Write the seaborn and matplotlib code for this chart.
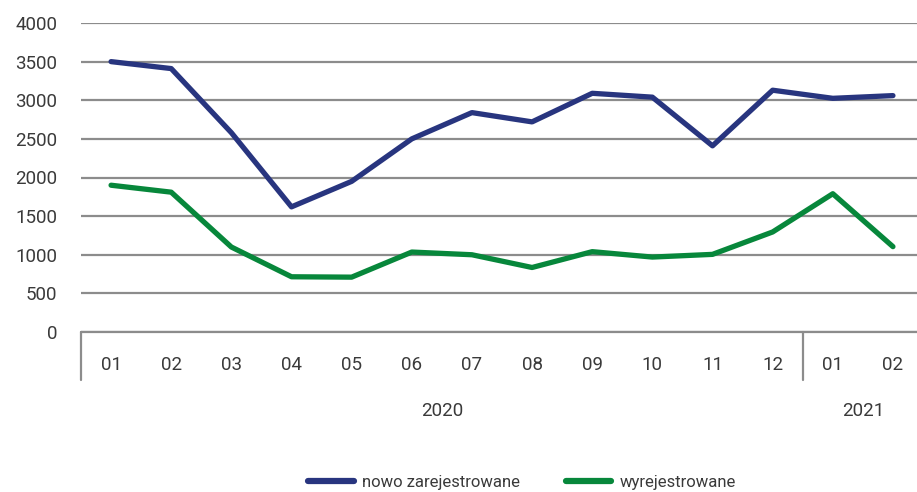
import seaborn as sns
import matplotlib.pyplot as plt
import matplotlib.transforms as mtransforms
import pandas as pd

months = ["01", "02", "03", "04", "05", "06", "07", "08", "09", "10", "11", "12", "01", "02"]
years = ["2020"] * 12 + ["2021"] * 2
nowo = [3500, 3410, 2580, 1620, 1950, 2500, 2840, 2720, 3090, 3040, 2410, 3130, 3025, 3060]
wyrej = [1900, 1810, 1100, 715, 710, 1035, 1000, 835, 1040, 970, 1005, 1295, 1790, 1105]

LABELS = ["nowo zarejestrowane", "wyrejestrowane"]
COLORS = ["#28357f", "#07873b"]
TEXT = "#3a3a3a"

rows = []
for i, (a, b) in enumerate(zip(nowo, wyrej)):
    rows.append({"pos": i, "value": a, "series": LABELS[0]})
    rows.append({"pos": i, "value": b, "series": LABELS[1]})
df = pd.DataFrame(rows)

sns.set_style("white")
plt.rcParams["font.family"] = ["Roboto", "DejaVu Sans"]
plt.rcParams["font.size"] = 13

fig = plt.figure(figsize=(9.17, 4.92), dpi=100)
ax = fig.add_axes([81 / 917, 1 - 332 / 492, 1 - 81 / 917, (332 - 23) / 492])

ax.set_ylim(0, 4000)
ax.set_yticks(range(0, 4001, 500))
ax.grid(axis="y", color="#8c8c8c", linewidth=1.6)
ax.set_axisbelow(True)

sns.lineplot(data=df, x="pos", y="value", hue="series", hue_order=LABELS,
             palette=COLORS, linewidth=3.8, ax=ax, legend=False)

ax.set_xlim(-0.5, 13.4)
ax.set_xticks(range(len(months)))
ax.set_xticklabels(months)
ax.tick_params(axis="x", length=0, pad=17, colors=TEXT, labelsize=13.5)
ax.tick_params(axis="y", length=0, pad=17, colors=TEXT, labelsize=13.5)
ax.set_xlabel("")
ax.set_ylabel("")
for s in ["top", "right", "left", "bottom"]:
    ax.spines[s].set_visible(False)

# year separators and year labels
trans = mtransforms.blended_transform_factory(ax.transData, ax.transAxes)
ax.plot([-0.5, 13.4], [0, 0], color="#8c8c8c", lw=1.6, transform=trans, clip_on=False)
for xb in [-0.5, 11.5]:
    ax.plot([xb, xb], [0, -0.155], color="#8c8c8c", lw=1.6, transform=trans, clip_on=False)
year_names = ["2020", "2021"]
for yname in year_names:
    idx = [i for i, y in enumerate(years) if y == yname]
    ax.text((idx[0] + idx[-1]) / 2, -0.255, yname, transform=trans,
            ha="center", va="center", color=TEXT, fontsize=13.5)

handles = [plt.Line2D([], [], color=c, lw=4.5, solid_capstyle="round") for c in COLORS]
fig.legend(handles, LABELS, loc="center left", bbox_to_anchor=(300 / 917, 1 - 482 / 492),
           ncol=2, frameon=False, handlelength=2.75, handletextpad=0.5,
           columnspacing=2.7, borderpad=0, labelcolor=TEXT, fontsize=12)

fig.savefig("out.png", dpi=100)
